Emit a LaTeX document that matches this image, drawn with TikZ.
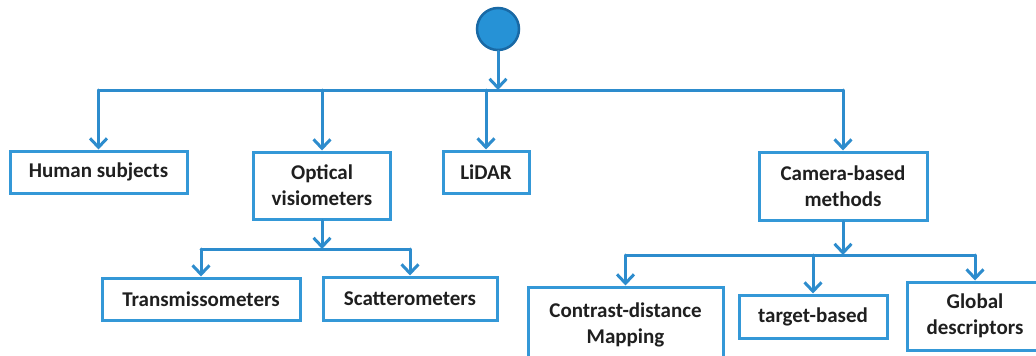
\documentclass[tikz,border=0pt]{standalone}
\usepackage{fontspec}
\setmainfont{Carlito}
\usetikzlibrary{arrows.meta}
\usetikzlibrary{positioning}

\definecolor{linkblue}{RGB}{45,140,205}
\definecolor{boxblue}{RGB}{52,152,215}
\definecolor{rootfill}{RGB}{38,146,214}
\definecolor{rootline}{RGB}{25,105,165}

\tikzset{
  catbox/.style={draw=boxblue,line width=3pt,fill=white,align=center,
    inner sep=0pt,font=\fontsize{21}{26}\selectfont\bfseries,text=black!88},
  link/.style={draw=linkblue,line width=3pt,line cap=round,line join=round},
}

\begin{document}
\begin{tikzpicture}[x=1pt,y=-1pt,>={Straight Barb[length=9pt,width=17pt,line width=3pt]}]
\useasboundingbox (0,0) rectangle (1036,356);

\node[circle,draw=rootline,line width=2.5pt,fill=rootfill,minimum size=42pt,inner sep=0pt] (root) at (498,29) {};

% first level
\begin{scope}[every node/.style={catbox}]
    \node[minimum width=177pt,minimum height=42pt] (human) at (98.5,172) {Human subjects};
    \node[minimum width=137pt,minimum height=67pt] (optical) at (322,185.5) {Optical\\visiometers};
    \node[minimum width=86pt,minimum height=42pt] (lidar) at (486,172) {LiDAR};
    \node[minimum width=168pt,minimum height=68pt] (camera) at (843,186) {Camera-based\\methods};
\end{scope}

% second level
\begin{scope}[every node/.style={catbox}]
    \node[minimum width=198pt,minimum height=42pt] (trans) at (201,299) {Transmissometers};
    \node[minimum width=174pt,minimum height=43pt] (scatter) at (410,298.5) {Scatterometers};
    \node[minimum width=195pt,minimum height=76pt] (contrast) at (625.5,325) {Contrast-distance\\Mapping};
    \node[minimum width=148pt,minimum height=43pt] (target) at (813,316.5) {target-based};
    \node[minimum width=136pt,minimum height=68pt] (global) at (975,316) {Global\\descriptors};
\end{scope}

\coordinate (busL) at (human |- 0,90);
\coordinate (busR) at (camera |- 0,90);
\coordinate (optL) at (trans |- 0,249);
\coordinate (optR) at (scatter |- 0,249);
\coordinate (camL) at (contrast |- 0,255);
\coordinate (camR) at (global |- 0,255);

\begin{scope}[link]
    \draw (busL) -- (busR);
    \draw (optL) -- (optR);
    \draw (camL) -- (camR);
    \draw [->] (root) -- (root |- busL);
    \draw [->] (busL) -- (human);
    \draw [->] (optical |- busL) -- (optical);
    \draw [->] (lidar |- busL) -- (lidar);
    \draw [->] (busR) -- (camera);
    \draw [->] (optical) -- (optical |- optL);
    \draw [->] (optL) -- (trans);
    \draw [->] (optR) -- (scatter);
    \draw [->] (camera) -- (camera |- camL);
    \draw [->] (camL) -- (contrast);
    \draw [->] (target |- camL) -- (target);
    \draw [->] (camR) -- (global);
\end{scope}
\end{tikzpicture}
\end{document}
